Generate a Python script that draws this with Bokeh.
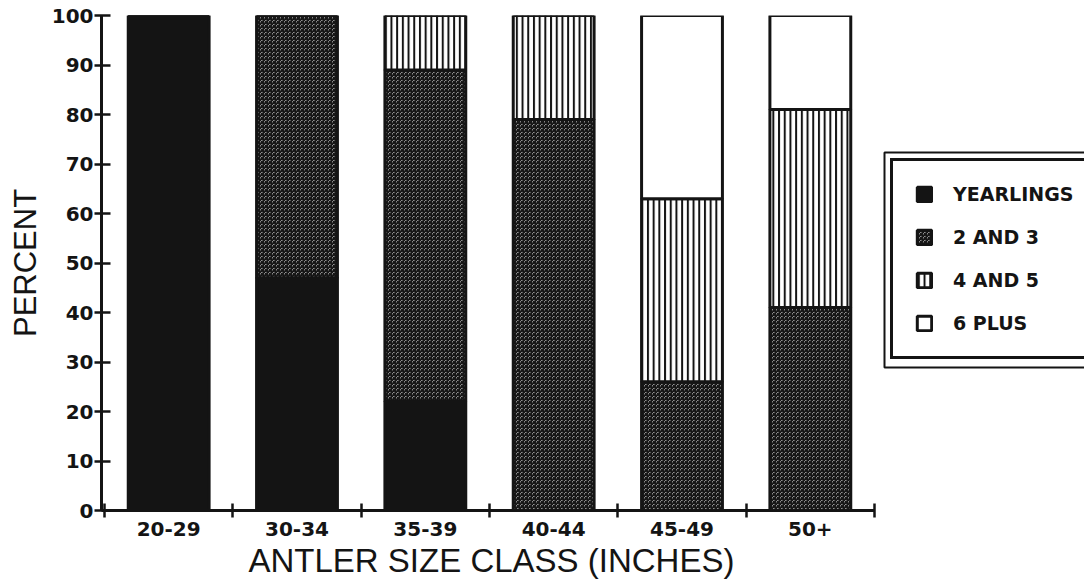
from bokeh.plotting import figure
from bokeh.models import (Range1d, FixedTicker, Legend, LegendItem, BoxAnnotation,
                          ColumnDataSource, Title)
from bokeh.embed import file_html
from bokeh.resources import INLINE

# ---------------- data ----------------
categories = ["20-29", "30-34", "35-39", "40-44", "45-49", "50+"]
yearlings = [100, 47, 22, 0, 0, 0]
two_and_three = [0, 53, 67, 79, 26, 41]
four_and_five = [0, 0, 11, 21, 37, 40]
six_plus = [0, 0, 0, 0, 37, 19]
series_labels = ["YEARLINGS", "2 AND 3", "4 AND 5", "6 PLUS"]
y_ticks = [0, 10, 20, 30, 40, 50, 60, 70, 80, 90, 100]
x_title = "ANTLER SIZE CLASS (INCHES)"
y_title = "PERCENT"

# ---------------- layout ----------------
INK = "#141414"
W, H = 1084, 584
FRAME_L, FRAME_T, FRAME_B = 101, 15, 74
BAND_GAP = 3          # px between y axis and first category cell
CAT_BAND_PX = 770
n = len(categories)
px_per_x = CAT_BAND_PX / n
frame_w = W - FRAME_L
frame_h = H - FRAME_T - FRAME_B
px_per_y = frame_h / 100.0
x_start = -BAND_GAP / px_per_x


def x_of(px):
    return x_start + (px - FRAME_L) / px_per_x


def y_of(py):
    return (H - FRAME_B - py) / px_per_y


p = figure(width=W, height=H, output_backend="svg", toolbar_location=None,
           x_range=Range1d(x_start, x_start + frame_w / px_per_x),
           y_range=Range1d(0, 100),
           min_border_left=FRAME_L, min_border_right=0,
           min_border_top=FRAME_T, min_border_bottom=FRAME_B)
p.outline_line_color = None
p.grid.visible = False
p.background_fill_color = "white"
p.border_fill_color = "white"

series = [yearlings, two_and_three, four_and_five, six_plus]
styles = [
    dict(fill_color=INK),
    dict(fill_color="white", hatch_pattern="criss_cross", hatch_color=INK,
         hatch_scale=4, hatch_weight=1.4),
    dict(fill_color="white", hatch_pattern="vertical_line", hatch_color=INK,
         hatch_scale=5.7, hatch_weight=2),
    dict(fill_color="white"),
]
xs = [i + 0.5 for i in range(n)]
bottom = [0] * n
renderers = []
for vals, st in zip(series, styles):
    top = [b + v for b, v in zip(bottom, vals)]
    src = ColumnDataSource(dict(x=xs, bottom=bottom, top=top))
    r = p.vbar(x="x", bottom="bottom", top="top", width=0.63, source=src,
               line_color=INK, line_width=3, **st)
    renderers.append(r)
    bottom = top

# ---------------- axes ----------------
xa = p.xaxis[0]
xa.ticker = FixedTicker(ticks=xs, minor_ticks=list(range(n + 1)))
xa.major_label_overrides = {x: c for x, c in zip(xs, categories)}
xa.bounds = (x_start, n)
xa.major_tick_in = 0
xa.major_tick_out = 0
xa.minor_tick_in = 7
xa.minor_tick_out = 7
xa.minor_tick_line_width = 2.5
xa.minor_tick_line_color = INK
xa.axis_line_width = 3
xa.axis_line_color = INK
xa.major_label_text_font = "DejaVu Sans"
xa.major_label_text_font_style = "bold"
xa.major_label_text_font_size = "20px"
xa.major_label_text_color = INK
xa.major_label_standoff = 4

p.add_layout(Title(text=x_title, align="left", offset=147, standoff=7,
                   vertical_align="top", text_font="Liberation Sans",
                   text_font_style="normal", text_font_size="33px",
                   text_color=INK), "below")

ya = p.yaxis[0]
ya.ticker = FixedTicker(ticks=y_ticks, minor_ticks=[])
ya.major_tick_in = 9
ya.major_tick_out = 7
ya.major_tick_line_width = 2.5
ya.major_tick_line_color = INK
ya.minor_tick_line_color = None
ya.axis_line_width = 3
ya.axis_line_color = INK
ya.major_label_text_font = "DejaVu Sans"
ya.major_label_text_font_style = "bold"
ya.major_label_text_font_size = "20px"
ya.major_label_text_color = INK
ya.major_label_standoff = 1
ya.axis_label = y_title
ya.axis_label_text_font = "Liberation Sans"
ya.axis_label_text_font_style = "normal"
ya.axis_label_text_font_size = "31px"
ya.axis_label_text_color = INK
ya.axis_label_standoff = 6

# ---------------- legend ----------------
p.add_layout(BoxAnnotation(left=x_of(884), right=x_of(W + 20), top=y_of(152),
                           bottom=y_of(367), fill_alpha=0, line_color=INK,
                           line_alpha=1, line_width=2))
legend = Legend(
    items=[LegendItem(label=l, renderers=[r]) for l, r in zip(series_labels, renderers)],
    location=(890 - FRAME_L, H - FRAME_B - 359),
    border_line_color=INK, border_line_width=3, border_line_alpha=1,
    background_fill_color="white", background_fill_alpha=1,
    label_text_font="DejaVu Sans", label_text_font_style="bold",
    label_text_font_size="19px", label_text_color=INK,
    glyph_width=18, glyph_height=18, label_height=18, label_width=150,
    label_standoff=20, spacing=21, padding=22, margin=0)
p.add_layout(legend)

open("out.html", "w").write(file_html(p, INLINE))
